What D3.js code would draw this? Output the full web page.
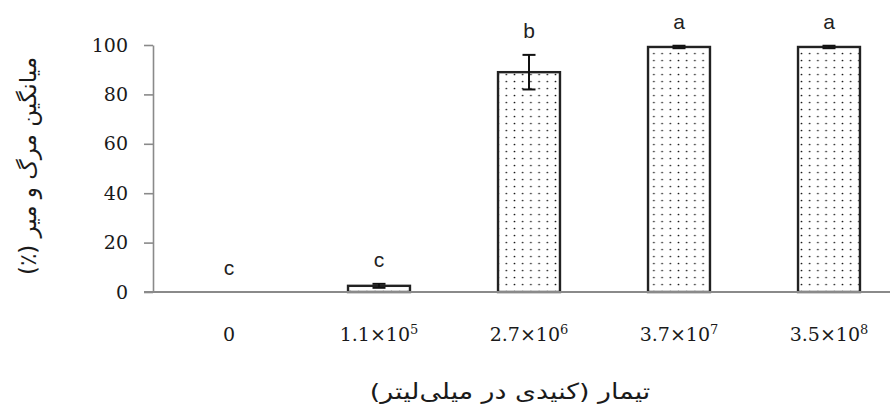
<!DOCTYPE html>
<html>
<head>
<meta charset="utf-8">
<script src="https://cdn.jsdelivr.net/npm/d3@7"></script>
<style>
  html, body { margin: 0; padding: 0; background: #fff; }
  svg { display: block; }
</style>
</head>
<body>
<svg id="chart" width="890" height="409"></svg>
<script>
// Treatments (conidia per ml): mantissa and power of ten for each tick label
const categories = ["t0", "t1", "t2", "t3", "t4"];
const tickMantissa = ["0", "1.1", "2.7", "3.7", "3.5"];
const tickExponent = ["", "5", "6", "7", "8"];

// Mean mortality (%) with standard error and significance letters
const mortality = [0, 2.5, 89, 99.2, 99.2];
const stdError = [0, 0.8, 7, 0.5, 0.5];
const groupLetters = ["c", "c", "b", "a", "a"];

const yTicks = [0, 20, 40, 60, 80, 100];

const yTitle = "میانگین مرگ و میر (٪)";
const xTitle = "تیمار (کنیدی در میلی‌لیتر)";

const width = 890, height = 409;
const svg = d3.select("#chart");

const y = d3.scaleLinear().domain([0, 100]).range([292, 45]);
const x = d3.scaleBand()
  .domain(categories)
  .range([154, 904])
  .paddingInner(0.587)
  .paddingOuter(0.2935);

const axisX = 153;
const tickLen = 9;

// dotted fill used by the bars
const defs = svg.append("defs");
const pat = defs.append("pattern")
  .attr("id", "dots")
  .attr("patternUnits", "userSpaceOnUse")
  .attr("width", 8.2)
  .attr("height", 7)
  .attr("x", 2)
  .attr("y", 1);
pat.append("rect").attr("width", 8.2).attr("height", 7).attr("fill", "#fff");
pat.append("circle").attr("cx", 4.1).attr("cy", 3.5).attr("r", 0.85).attr("fill", "#1a1a1a");

// y axis
const yAxis = svg.append("g")
  .attr("transform", `translate(${axisX},0)`)
  .call(d3.axisLeft(y).tickValues(yTicks).tickSize(tickLen).tickSizeOuter(0).tickPadding(16));
yAxis.select(".domain").attr("stroke", "#8a8a8a").attr("stroke-width", 1.6);
yAxis.selectAll(".tick line").attr("stroke", "#8a8a8a").attr("stroke-width", 1.6);
yAxis.selectAll(".tick text")
  .attr("font-family", "'DejaVu Serif', serif")
  .attr("font-size", 19)
  .attr("fill", "#1a1a1a");

// bars
svg.append("g").selectAll("rect")
  .data(mortality)
  .join("rect")
  .attr("x", (d, i) => x(categories[i]))
  .attr("y", d => y(d))
  .attr("width", x.bandwidth())
  .attr("height", d => y(0) - y(d))
  .attr("fill", "url(#dots)")
  .attr("stroke", d => d > 0 ? "#222" : "none")
  .attr("stroke-width", 2.4);

// error bars
const capHalf = 6.5;
const eb = svg.append("g").attr("stroke", "#111").attr("stroke-width", 2);
mortality.forEach((v, i) => {
  if (stdError[i] <= 0) return;
  const cx = x(categories[i]) + x.bandwidth() / 2;
  const top = y(v + stdError[i]);
  const bot = y(v - stdError[i]);
  eb.append("line").attr("x1", cx).attr("x2", cx).attr("y1", top).attr("y2", bot);
  eb.append("line").attr("x1", cx - capHalf).attr("x2", cx + capHalf).attr("y1", top).attr("y2", top);
  eb.append("line").attr("x1", cx - capHalf).attr("x2", cx + capHalf).attr("y1", bot).attr("y2", bot);
});

// x axis baseline
svg.append("line")
  .attr("x1", axisX - tickLen).attr("x2", width)
  .attr("y1", y(0)).attr("y2", y(0))
  .attr("stroke", "#8a8a8a").attr("stroke-width", 2);

// x tick labels with powers of ten
const xAxis = svg.append("g")
  .attr("transform", `translate(0,${y(0)})`)
  .call(d3.axisBottom(x).tickSize(0).tickPadding(36).tickFormat(() => ""));
xAxis.select(".domain").remove();
xAxis.selectAll(".tick text")
  .attr("font-family", "'DejaVu Serif', serif")
  .attr("font-size", 19)
  .attr("fill", "#1a1a1a")
  .each(function(d, i) {
    const t = d3.select(this);
    if (tickExponent[i]) {
      t.append("tspan").text(tickMantissa[i] + "×10");
      t.append("tspan").attr("font-size", 13).attr("dy", -7).text(tickExponent[i]);
    } else {
      t.append("tspan").text(tickMantissa[i]);
    }
  });

// significance letters
svg.append("g").selectAll("text")
  .data(groupLetters)
  .join("text")
  .attr("x", (d, i) => x(categories[i]) + x.bandwidth() / 2)
  .attr("y", (d, i) => y(mortality[i] + stdError[i]) - 17)
  .attr("text-anchor", "middle")
  .attr("font-family", "'Liberation Sans', Arial, sans-serif")
  .attr("font-size", 21)
  .attr("fill", "#222")
  .text(d => d);

// axis titles
svg.append("text")
  .attr("transform", "translate(36,166) rotate(-90)")
  .attr("text-anchor", "middle")
  .attr("direction", "rtl")
  .attr("font-family", "'DejaVu Sans', sans-serif")
  .attr("font-size", 23)
  .attr("fill", "#1a1a1a")
  .text(yTitle);

// x title, set in a slightly wide face
svg.append("text")
  .attr("transform", "translate(510,399) scale(1.22,1)")
  .attr("text-anchor", "middle")
  .attr("direction", "rtl")
  .attr("font-family", "'DejaVu Sans', sans-serif")
  .attr("font-size", 22)
  .attr("fill", "#1a1a1a")
  .text(xTitle);
</script>
</body>
</html>
